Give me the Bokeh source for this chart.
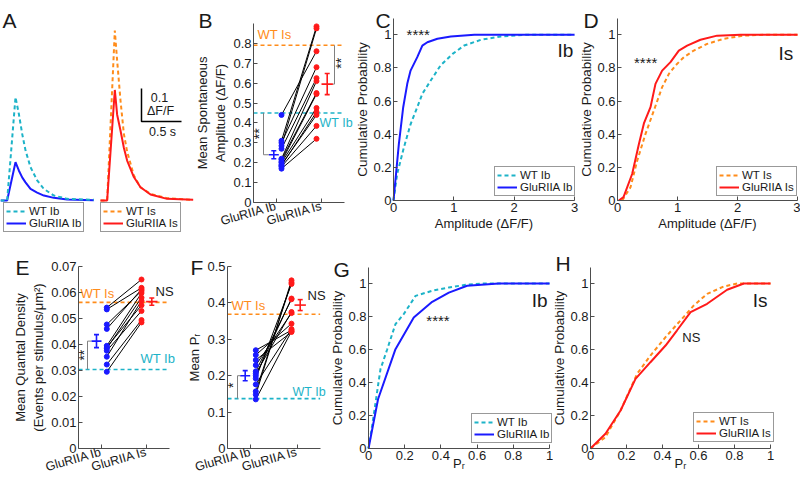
from math import pi
from bokeh.plotting import figure
from bokeh.layouts import column, row
from bokeh.models import (Range1d, FixedTicker, CustomJSTickFormatter, Label,
                          Legend, LegendItem, LinearAxis)
from bokeh.embed import file_html
from bokeh.resources import INLINE

# ---------------- data ----------------
# A: averaged spontaneous transients (time s, dF/F)
ib_trace_t = [0, 0.083, 0.1875, 0.229, 0.271, 0.3125, 0.375, 0.458, 0.542, 0.667, 0.833, 1.167]
ib_trace_wt = [0, 0, 0.313, 0.263, 0.202, 0.152, 0.101, 0.061, 0.035, 0.015, 0.005, 0.002]
ib_trace_glu = [0, 0, 0.116, 0.091, 0.070, 0.055, 0.035, 0.024, 0.015, 0.008, 0.003, 0.001]
is_trace_t = [0, 0.083, 0.179, 0.208, 0.25, 0.292, 0.333, 0.417, 0.5, 0.625, 0.833, 1.158]
is_trace_wt = [0, 0, 0.515, 0.424, 0.303, 0.202, 0.148, 0.076, 0.04, 0.02, 0.007, 0.002]
is_trace_glu = [0, 0, 0.335, 0.26, 0.212, 0.16, 0.121, 0.071, 0.04, 0.018, 0.005, 0.002]
scale_dff = 0.1
scale_sec = 0.5

categories = ["GluRIIA Ib", "GluRIIA Is"]
cat_x = [1, 2]

# B: mean spontaneous amplitude
b_ib = [0.44, 0.31, 0.30, 0.285, 0.27, 0.22, 0.215, 0.205, 0.20, 0.19, 0.185, 0.18, 0.17]
b_is = [0.76, 0.885, 0.68, 0.875, 0.625, 0.61, 0.55, 0.545, 0.475, 0.44, 0.455, 0.385, 0.32]
b_mean = [0.24, 0.595]
b_sem = [0.02, 0.053]
b_wt = [0.45, 0.79]

# E: mean quantal density
e_ib = [0.0542, 0.0535, 0.0477, 0.046, 0.0395, 0.039, 0.0385, 0.0376, 0.0353, 0.0323, 0.0295]
e_is = [0.065, 0.0618, 0.0606, 0.0612, 0.0598, 0.0551, 0.058, 0.0529, 0.0568, 0.0494, 0.0485]
e_mean = [0.0413, 0.0565]
e_sem = [0.0025, 0.0014]
e_wt = [0.0304, 0.0562]

# F: mean Pr
f_ib = [0.27, 0.257, 0.243, 0.229, 0.212, 0.206, 0.2, 0.192, 0.176, 0.157, 0.148, 0.135]
f_is = [0.325, 0.343, 0.32, 0.372, 0.41, 0.375, 0.412, 0.452, 0.328, 0.456, 0.462, 0.322]
f_mean = [0.2, 0.394]
f_sem = [0.014, 0.015]
f_wt = [0.137, 0.369]

# C: cumulative amplitude, Ib
c_amp_wt = [0, 0.061, 0.172, 0.283, 0.394, 0.478, 0.617, 0.78, 0.98, 1.17, 1.45, 1.78, 2.17, 3.0]
c_cum_wt = [0, 0.16, 0.32, 0.46, 0.563, 0.644, 0.724, 0.815, 0.885, 0.935, 0.97, 0.99, 1.0, 1.0]
c_amp_glu = [0, 0.089, 0.161, 0.228, 0.283, 0.394, 0.478, 0.561, 0.728, 0.95, 1.34, 3.0]
c_cum_glu = [0, 0.342, 0.563, 0.704, 0.784, 0.865, 0.935, 0.955, 0.976, 0.99, 1.0, 1.0]

# D: cumulative amplitude, Is
d_amp_wt = [0.078, 0.217, 0.328, 0.467, 0.606, 0.744, 0.856, 0.967, 1.106, 1.272, 1.494, 1.772, 2.106, 2.44, 3.0]
d_cum_wt = [0, 0.08, 0.24, 0.402, 0.543, 0.684, 0.764, 0.815, 0.865, 0.905, 0.945, 0.976, 0.995, 1.0, 1.0]
d_amp_glu = [0.022, 0.1, 0.244, 0.356, 0.44, 0.55, 0.633, 0.744, 0.883, 1.022, 1.161, 1.383, 1.66, 2.05, 3.0]
d_cum_glu = [0, 0.02, 0.16, 0.34, 0.465, 0.563, 0.704, 0.784, 0.835, 0.905, 0.935, 0.97, 0.995, 1.0, 1.0]

# G: cumulative Pr, Ib
g_pr_wt = [0, 0.02, 0.066, 0.103, 0.149, 0.195, 0.26, 0.352, 0.444, 0.536, 0.628, 1.0]
g_cum_wt = [0, 0.137, 0.48, 0.6, 0.754, 0.815, 0.925, 0.956, 0.976, 0.992, 1.0, 1.0]
g_pr_glu = [0, 0.053, 0.149, 0.25, 0.352, 0.444, 0.545, 0.72, 1.0]
g_cum_glu = [0, 0.3, 0.602, 0.794, 0.889, 0.945, 0.986, 1.0, 1.0]

# H: cumulative Pr, Is
h_pr_wt = [0, 0.083, 0.167, 0.259, 0.333, 0.417, 0.5, 0.574, 0.648, 0.741, 0.815, 1.0]
h_cum_wt = [0, 0.069, 0.23, 0.453, 0.563, 0.675, 0.776, 0.867, 0.937, 0.982, 1.0, 1.0]
h_pr_glu = [0, 0.083, 0.167, 0.25, 0.333, 0.417, 0.48, 0.556, 0.648, 0.759, 0.852, 1.0]
h_cum_glu = [0, 0.089, 0.23, 0.422, 0.523, 0.624, 0.715, 0.826, 0.877, 0.962, 1.0, 1.0]

cum_ticks = [0, 0.2, 0.4, 0.6, 0.8, 1]

# ---------------- style ----------------
FONT = "Liberation Sans"
CYAN = "#1DB3C8"
ORANGE = "#FF8C1A"
BLUE = "#1A1AFF"
RED = "#FF1A1A"
AXIS = "#4d4d4d"
TXT = "#1a1a1a"
GRAY = "#808080"
DASH = "4 3"


def fmt():
    return CustomJSTickFormatter(code="return String(Math.round(tick*1000)/1000);")


class Box:
    """Figure placed at page pixels (x0..x1, y0..y1); two anchors per axis map data to pixels."""

    def __init__(self, x0, x1, y0, y1, xa, xb, ya, yb):
        self.x0, self.x1, self.y0, self.y1 = x0, x1, y0, y1
        self.xa, self.ya = xa, ya
        self.sx = (xb[1] - xa[1]) / (xb[0] - xa[0])
        self.sy = (yb[1] - ya[1]) / (yb[0] - ya[0])

    def dx(self, px):
        return self.xa[0] + (px - self.xa[1]) / self.sx

    def dy(self, py):
        return self.ya[0] + (py - self.ya[1]) / self.sy

    def w(self, px):
        return px / self.sx

    def fig(self):
        p = figure(width=self.x1 - self.x0, height=self.y1 - self.y0,
                   x_range=Range1d(self.dx(self.x0), self.dx(self.x1)),
                   y_range=Range1d(self.dy(self.y1), self.dy(self.y0)),
                   x_axis_location=None, y_axis_location=None,
                   output_backend="svg", toolbar_location=None,
                   min_border_left=0, min_border_right=0,
                   min_border_top=0, min_border_bottom=0)
        p.outline_line_color = None
        p.xgrid.visible = False
        p.ygrid.visible = False
        p.background_fill_color = "white"
        p.border_fill_color = "white"
        return p

    def legend_loc(self, px_left, py_bottom):
        return (px_left - self.x0, self.y1 - py_bottom)


def style_axis(ax):
    ax.axis_line_color = AXIS
    ax.major_tick_line_color = AXIS
    ax.major_tick_in = 4
    ax.major_tick_out = 0
    ax.minor_tick_line_color = None
    ax.major_label_text_font = FONT
    ax.major_label_text_font_size = "13px"
    ax.major_label_text_color = TXT
    ax.major_label_standoff = 2
    ax.axis_label_text_font = FONT
    ax.axis_label_text_font_size = "13px"
    ax.axis_label_text_font_style = "normal"
    ax.axis_label_text_color = TXT
    ax.axis_label_standoff = 2


def add_axes(p, xbounds, ybounds, xticks, yticks, xlabel=None, ylabel=None):
    xa = LinearAxis(fixed_location=ybounds[0], bounds=xbounds,
                    ticker=FixedTicker(ticks=xticks), formatter=fmt())
    ya = LinearAxis(fixed_location=xbounds[0], bounds=ybounds,
                    ticker=FixedTicker(ticks=yticks), formatter=fmt())
    style_axis(xa)
    style_axis(ya)
    if xlabel:
        xa.axis_label = xlabel
    if ylabel:
        ya.axis_label = ylabel
    p.add_layout(xa, "below")
    p.add_layout(ya, "left")
    return xa, ya


def letter(p, box, s, px, py):
    p.add_layout(Label(x=box.dx(px), y=box.dy(py), text=s, text_font=FONT,
                       text_font_size="21px", text_color=TXT, text_baseline="alphabetic"))


def txt(p, x, y, s, color=TXT, size="13px", align="left", baseline="middle", angle=0):
    p.add_layout(Label(x=x, y=y, text=s, text_font=FONT, text_font_size=size,
                       text_color=color, text_align=align, text_baseline=baseline,
                       angle=angle))


def style_legend(lg, loc):
    lg.location = loc
    lg.label_text_font = FONT
    lg.label_text_font_size = "11.5px"
    lg.label_text_color = TXT
    lg.glyph_width = 20
    lg.glyph_height = 10
    lg.label_height = 10
    lg.label_standoff = 3
    lg.spacing = -4
    lg.padding = 2
    lg.margin = 0
    lg.border_line_color = "#333333"
    lg.border_line_width = 1
    lg.background_fill_alpha = 1


def mean_bar(p, box, x, m, s, color, hw_px):
    hw = box.w(hw_px)
    cap = box.w(2.5)
    p.segment(x0=[x - hw, x, x - cap, x - cap], y0=[m, m - s, m + s, m - s],
              x1=[x + hw, x, x + cap, x + cap], y1=[m, m + s, m + s, m - s],
              color=color, line_width=1.6)


def paired_panel(p, box, ib, isv, mean, sem, wt, yticks, ytop, ylabel, dots_px, means_px,
                 bracket_px, stars, star_px, star_y):
    xa, ya = add_axes(p, (0.5, 2.5), (0, ytop), cat_x, yticks, ylabel=ylabel)
    xa.major_label_overrides = {cat_x[0]: categories[0], cat_x[1]: categories[1]}
    xa.major_label_orientation = 0.28
    xa.major_label_text_font_size = "12.5px"
    xa.major_label_standoff = 3
    x_start, x_end = 0.5, 2.5
    p.segment(x0=[x_start, x_start], y0=[wt[1], wt[0]], x1=[x_end, x_end], y1=[wt[1], wt[0]],
              color=[ORANGE, CYAN], line_dash=DASH, line_width=1.6)
    dx1, dx2 = box.dx(dots_px[0]), box.dx(dots_px[1])
    n = len(ib)
    p.segment(x0=[dx1] * n, y0=ib, x1=[dx2] * n, y1=isv, color="black", line_width=1)
    p.scatter([dx1] * n, ib, size=5, color=BLUE)
    p.scatter([dx2] * len(isv), isv, size=5, color=RED)
    m1, m2 = box.dx(means_px[0]), box.dx(means_px[1])
    mean_bar(p, box, m1, mean[0], sem[0], BLUE, 5)
    mean_bar(p, box, m2, mean[1], sem[1], RED, 5.7)
    bx = box.dx(bracket_px)
    p.segment(x0=[bx, bx], y0=[mean[0], mean[0]], x1=[bx, m1 - box.w(5)],
              y1=[wt[0], mean[0]], color=GRAY, line_width=1)
    txt(p, box.dx(star_px), star_y, stars, size="14px", align="center", angle=pi / 2)


def cum_panel(p, box, x1, y1, x2, y2, c1, c2, l1, l2, xticks, xlabel, leg_px):
    r1 = p.line(x1, y1, color=c1, line_width=2, line_dash=DASH)
    r2 = p.line(x2, y2, color=c2, line_width=2)
    xa, ya = add_axes(p, (xticks[0], xticks[-1]), (0, 1.1), xticks, cum_ticks,
                      xlabel=xlabel, ylabel="Cumulative Probability")
    ya.axis_label_text_font_size = "13.5px"
    ya.axis_label_standoff = 0
    ya.major_label_standoff = 2
    xa.axis_label_standoff = 1
    lg = Legend(items=[LegendItem(label=l1, renderers=[r1]), LegendItem(label=l2, renderers=[r2])])
    style_legend(lg, box.legend_loc(*leg_px))
    p.add_layout(lg)
    return xa, ya


# ---------------- A ----------------
boxA = Box(0, 196, 0, 240, (0, 0), (0.5, 40), (0, 200), (0.1, 167))
pa = boxA.fig()
shift = boxA.dx(100)
ra2 = pa.line(ib_trace_t, ib_trace_glu, color=BLUE, line_width=2)
ra1 = pa.line(ib_trace_t, ib_trace_wt, color=CYAN, line_width=2, line_dash=DASH)
ts = [t + shift for t in is_trace_t]
ra3 = pa.line(ts, is_trace_wt, color=ORANGE, line_width=2, line_dash=DASH)
ra4 = pa.line(ts, is_trace_glu, color=RED, line_width=2)
sx0, sy0 = boxA.dx(141), boxA.dy(121)
pa.line([sx0, sx0, sx0 + scale_sec], [sy0 + scale_dff, sy0, sy0], color="black", line_width=1.5)
txt(pa, boxA.dx(159), boxA.dy(97), "0.1", size="12.5px", align="center")
txt(pa, boxA.dx(160), boxA.dy(110), "ΔF/F", size="12.5px", align="center")
txt(pa, boxA.dx(162), boxA.dy(131), "0.5 s", size="12.5px", align="center")
lg1 = Legend(items=[LegendItem(label="WT Ib", renderers=[ra1]),
                    LegendItem(label="GluRIIA Ib", renderers=[ra2])])
lg2 = Legend(items=[LegendItem(label="WT Is", renderers=[ra3]),
                    LegendItem(label="GluRIIA Is", renderers=[ra4])])
style_legend(lg1, boxA.legend_loc(3, 232))
style_legend(lg2, boxA.legend_loc(100, 232))
pa.add_layout(lg1)
pa.add_layout(lg2)
letter(pa, boxA, "A", 2, 20)

# ---------------- B ----------------
boxB = Box(196, 355, 0, 240, (1, 275.75), (2, 321.25), (0, 202), (0.8, 42.8))
pb = boxB.fig()
paired_panel(pb, boxB, b_ib, b_is, b_mean, b_sem, b_wt,
             [0, 0.1, 0.2, 0.3, 0.4, 0.5, 0.6, 0.7, 0.8], 0.9,
             "Mean Spontaneous\nAmplitude (ΔF/F)", (281, 316), (273.3, 326.7), 263,
             "**", 258, 0.345)
rbx = boxB.dx(334)
pb.segment(x0=[rbx, boxB.dx(326.7) + boxB.w(5.7)], y0=[b_mean[1], b_mean[1]],
           x1=[rbx, rbx], y1=[b_wt[1], b_mean[1]], color=GRAY, line_width=1)
txt(pb, boxB.dx(340), 0.70, "**", size="14px", align="center", angle=pi / 2)
txt(pb, boxB.dx(257), 0.843, "WT Is", color=ORANGE)
txt(pb, boxB.dx(319), 0.402, "WT Ib", color=CYAN, size="12.5px")
letter(pb, boxB, "B", 198, 20)

# ---------------- C ----------------
boxC = Box(355, 579, 0, 240, (0, 393), (3, 574), (0, 200), (1, 34.3))
pc = boxC.fig()
cum_panel(pc, boxC, c_amp_wt, c_cum_wt, c_amp_glu, c_cum_glu, CYAN, BLUE, "WT Ib", "GluRIIA Ib",
          [0, 1, 2, 3], "Amplitude (ΔF/F)", (494, 196))
txt(pc, 0.41, 1.0, "****", size="15px", align="center", baseline="alphabetic")
txt(pc, 2.98, 0.905, "Ib", size="19px", align="right")
letter(pc, boxC, "C", 375, 20)

# ---------------- D ----------------
boxD = Box(579, 800, 0, 240, (0, 617), (3, 797), (0, 200), (1, 34.3))
pd_ = boxD.fig()
cum_panel(pd_, boxD, d_amp_wt, d_cum_wt, d_amp_glu, d_cum_glu, ORANGE, RED, "WT Is", "GluRIIA Is",
          [0, 1, 2, 3], "Amplitude (ΔF/F)", (716, 196))
txt(pd_, 0.47, 0.83, "****", size="15px", align="center", baseline="alphabetic")
txt(pd_, 2.93, 0.89, "Is", size="19px", align="right")
letter(pd_, boxD, "D", 583, 20)

# ---------------- E ----------------
boxE = Box(0, 182, 240, 479, (1, 100.7), (2, 146), (0, 448), (0.07, 266))
pe = boxE.fig()
paired_panel(pe, boxE, e_ib, e_is, e_mean, e_sem, e_wt,
             [0, 0.01, 0.02, 0.03, 0.04, 0.05, 0.06, 0.07], 0.07,
             "Mean Quantal Density\n(Events per stimulus/μm²)", (106.3, 141), (96, 151.3), 87,
             "**", 83.7, 0.0359)
txt(pe, boxE.dx(80), 0.0596, "WT Is", color=ORANGE)
txt(pe, boxE.dx(140), 0.0346, "WT Ib", color=CYAN)
txt(pe, boxE.dx(155), 0.0605, "NS")
letter(pe, boxE, "E", 15, 267)

# ---------------- F ----------------
boxF = Box(182, 328, 240, 479, (1, 250.2), (2, 296.5), (0, 448), (0.5, 266))
pf = boxF.fig()
paired_panel(pf, boxF, f_ib, f_is, f_mean, f_sem, f_wt, [0, 0.1, 0.2, 0.3, 0.4, 0.5], 0.5,
             "Mean Pᵣ", (255.3, 291), (244.7, 299.7), 237, "*", 232.7, 0.174)
txt(pf, boxF.dx(231), 0.394, "WT Is", color=ORANGE)
txt(pf, boxF.dx(292), 0.156, "WT Ib", color=CYAN, size="12.5px")
txt(pf, boxF.dx(307), 0.42, "NS")
letter(pf, boxF, "F", 190, 267)

# ---------------- G ----------------
boxG = Box(328, 553, 240, 479, (0, 368), (1, 549), (0, 448), (1, 283))
pg = boxG.fig()
xg, _ = cum_panel(pg, boxG, g_pr_wt, g_cum_wt, g_pr_glu, g_cum_glu, CYAN, BLUE, "WT Ib",
                  "GluRIIA Ib", cum_ticks, "Pᵣ", (471, 443))
xg.axis_label_standoff = -7
txt(pg, 0.384, 0.777, "****", size="15px", align="center", baseline="alphabetic")
txt(pg, 0.99, 0.9, "Ib", size="19px", align="right")
letter(pg, boxG, "G", 333, 269)

# ---------------- H ----------------
boxH = Box(553, 800, 240, 479, (0, 590), (1, 770), (0, 448), (1, 283))
ph = boxH.fig()
xh, _ = cum_panel(ph, boxH, h_pr_wt, h_cum_wt, h_pr_glu, h_cum_glu, ORANGE, RED, "WT Is",
                  "GluRIIA Is", cum_ticks, "Pᵣ", (693, 442))
xh.axis_label_standoff = -7
txt(ph, 0.56, 0.67, "NS", align="center")
txt(ph, 0.983, 0.9, "Is", size="19px", align="right")
letter(ph, boxH, "H", 555, 263)

layout = column(row(pa, pb, pc, pd_), row(pe, pf, pg, ph))
open("out.html", "w").write(file_html(layout, INLINE, title="GluRIIA figure"))
